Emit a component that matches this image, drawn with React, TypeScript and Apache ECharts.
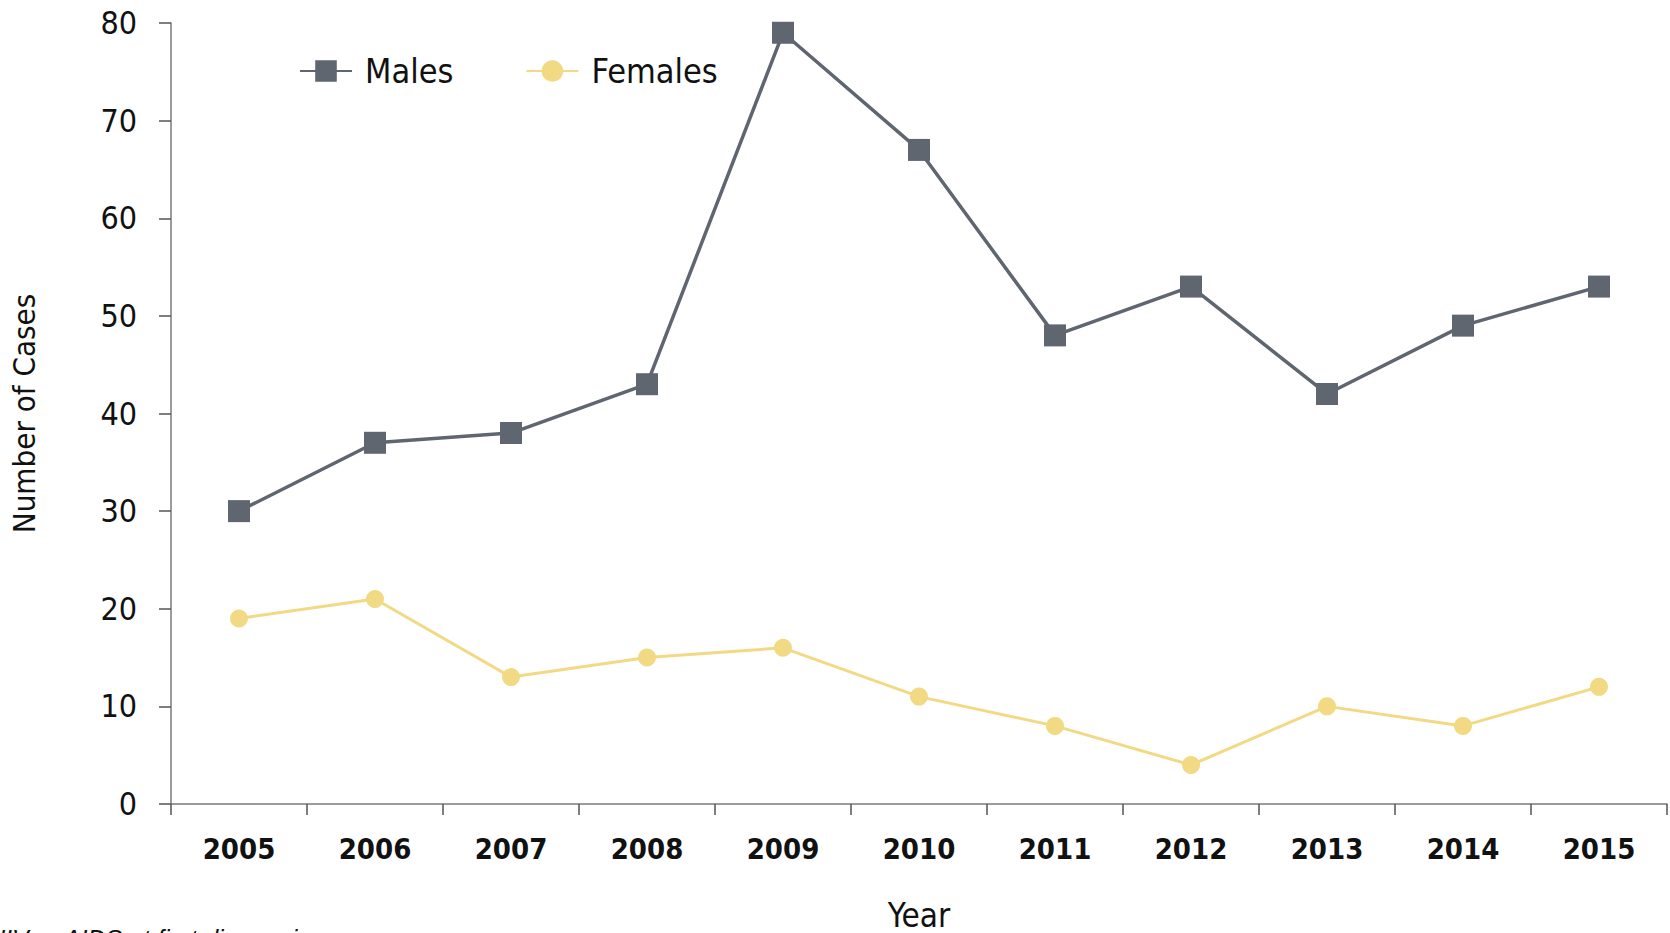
import React, { useEffect, useRef } from "react";
import * as echarts from "echarts";

const years = ["2005", "2006", "2007", "2008", "2009", "2010", "2011", "2012", "2013", "2014", "2015"];
const males = [30, 37, 38, 43, 79, 67, 48, 53, 42, 49, 53];
const females = [19, 21, 13, 15, 16, 11, 8, 4, 10, 8, 12];
const seriesNames = ["Males", "Females"];
const footnote = "HIV or AIDS at first diagnosis";

const FONT = "'Liberation Sans Narrow', 'DejaVu Sans Condensed', 'Roboto', sans-serif";

export default function App() {
  const ref = useRef<HTMLDivElement>(null);
  useEffect(() => {
    document.body.style.margin = "0";
    const chart = echarts.init(ref.current!, null, { renderer: "svg" });
    chart.setOption({
      animation: false,
      backgroundColor: "#ffffff",
      grid: { left: 171, right: 3, top: 23, bottom: 129, containLabel: false, outerBoundsMode: "none" },
      legend: {
        left: 294,
        top: 49,
        itemWidth: 52,
        itemHeight: 27,
        itemGap: 72,
        textStyle: { fontFamily: FONT, fontSize: 34, color: "#111", padding: [0, 0, 0, 8] },
        data: seriesNames,
      },
      xAxis: {
        type: "category",
        data: years,
        boundaryGap: true,
        name: "Year",
        nameLocation: "middle",
        nameGap: 96,
        nameTextStyle: { fontFamily: FONT, fontSize: 33, lineHeight: 30, color: "#111" },
        axisLine: { lineStyle: { color: "#7a7a7a", width: 1.5 } },
        axisTick: { show: true, length: 11, lineStyle: { color: "#555", width: 1.5 } },
        axisLabel: { fontFamily: FONT, fontSize: 29, fontWeight: "bold", color: "#111", margin: 30 },
        splitLine: { show: false },
      },
      yAxis: {
        type: "value",
        min: 0,
        max: 80,
        interval: 10,
        name: "Number of Cases",
        nameLocation: "middle",
        nameGap: 132,
        nameTextStyle: { fontFamily: FONT, fontSize: 31, color: "#111" },
        axisLine: { show: true, lineStyle: { color: "#7a7a7a", width: 1.5 } },
        axisTick: { show: true, length: 12, lineStyle: { color: "#555", width: 1.5 } },
        axisLabel: { fontFamily: FONT, fontSize: 32, color: "#111", margin: 34 },
        splitLine: { show: false },
      },
      series: [
        {
          name: seriesNames[0],
          type: "line",
          data: males,
          symbol: "rect",
          symbolSize: 22,
          itemStyle: { color: "#5f6670" },
          lineStyle: { color: "#5f6670", width: 3.5 },
          z: 3,
        },
        {
          name: seriesNames[1],
          type: "line",
          data: females,
          symbol: "circle",
          symbolSize: 18,
          itemStyle: { color: "#f2d983" },
          lineStyle: { color: "#f2d983", width: 3 },
          z: 2,
        },
      ],
      graphic: [
        {
          type: "text",
          left: -13,
          top: 926,
          style: {
            text: footnote,
            fontFamily: "'Liberation Sans', Arial, sans-serif",
            fontStyle: "italic",
            fontSize: 25,
            fill: "#111",
          },
        },
      ],
    });
    return () => chart.dispose();
  }, []);
  return <div ref={ref} style={{ width: 1670, height: 933 }} />;
}
